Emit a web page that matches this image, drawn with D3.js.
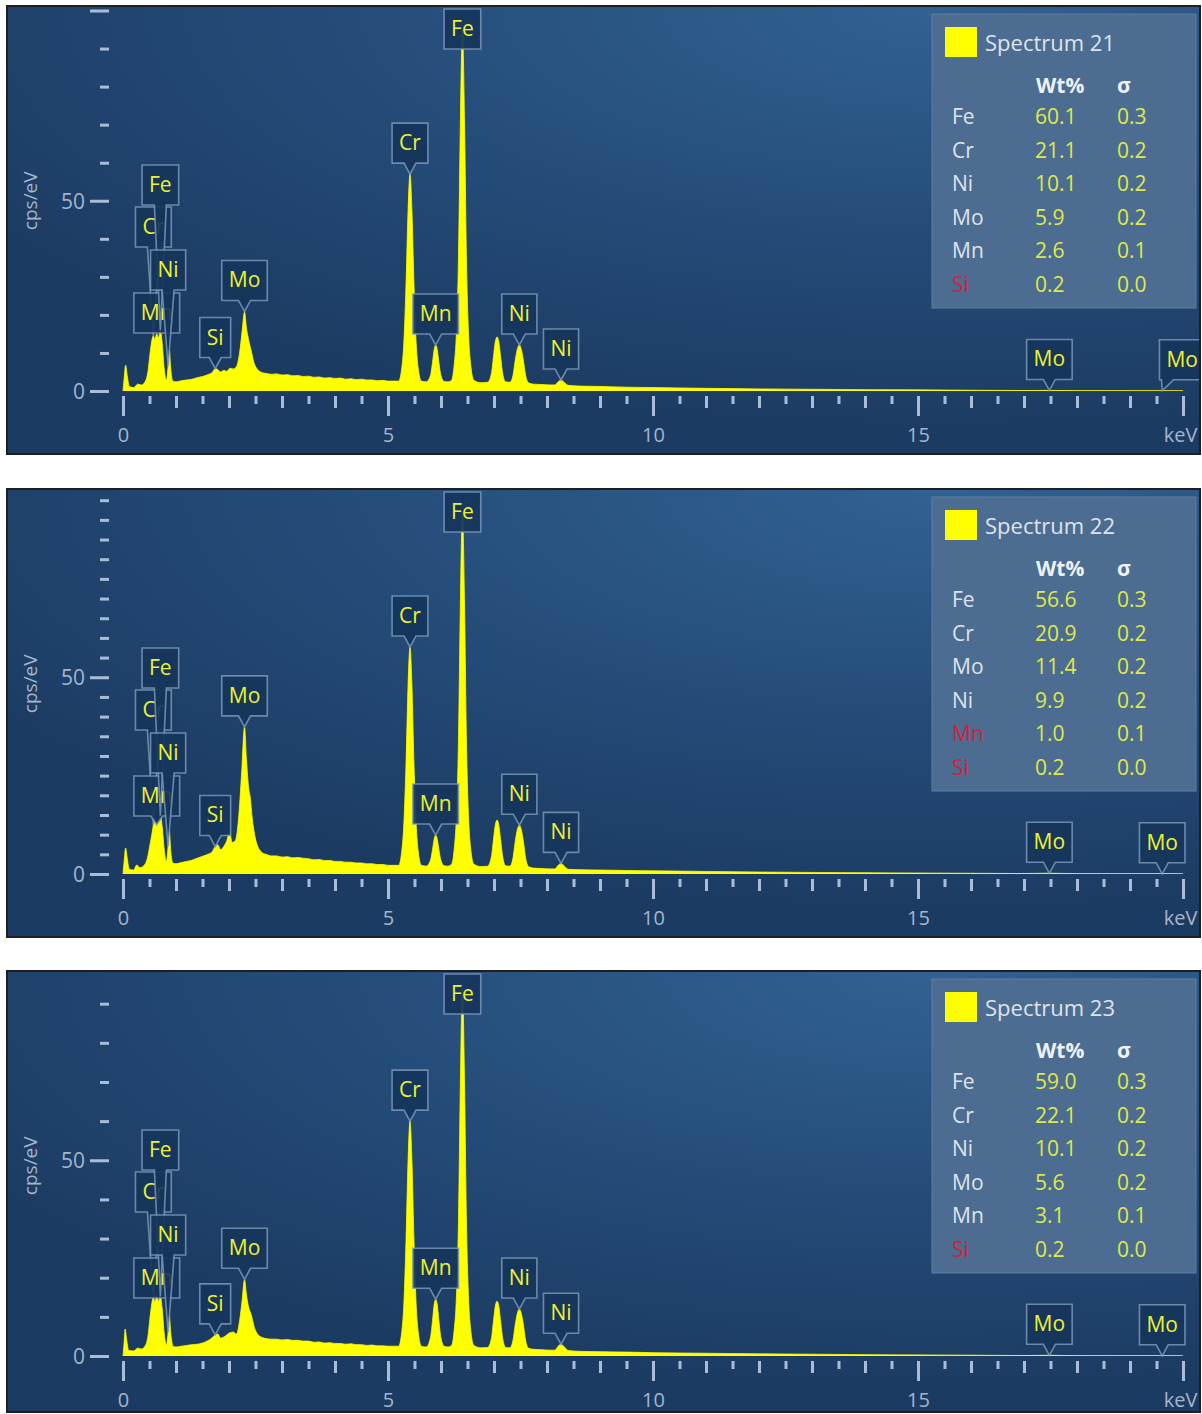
<!DOCTYPE html>
<html>
<head>
<meta charset="utf-8">
<script src="https://cdn.jsdelivr.net/npm/d3@7"></script>
<style>
  body { margin: 0; background: #ffffff; }
  svg { display: block; }
  text { font-family: "Open Sans", "Noto Sans", sans-serif; }
</style>
</head>
<body>
<svg id="chart" width="1202" height="1414"></svg>
<script>
// ---------------- data ----------------
const energyDomain = [0, 20];                       // keV
const xMajorTicks = [0, 5, 10, 15, 20];
const xTickLabels = ["0", "5", "10", "15", "keV"];
const yLabelValues = [0, 50];

const spectrumNames = ["Spectrum 21", "Spectrum 22", "Spectrum 23"];
const countMax = [100, 96.7, 97.2];                 // cps/eV at top of each plot
const countTickStep = [10, 5, 10];

// EDS spectra: [energy keV, counts cps/eV]
const spectrum21 = [
  [0.00,0],[0.02,3.0],[0.05,6.8],[0.08,4.0],[0.12,1.2],[0.20,0.9],[0.28,1.8],[0.35,1.6],[0.42,2.5],[0.47,5.0],
  [0.52,11.0],[0.573,14.5],[0.60,13.6],[0.637,15.0],[0.67,14.0],[0.705,16.0],[0.74,12.5],[0.78,5.5],[0.82,2.8],
  [0.851,6.5],[0.875,10.8],[0.90,6.0],[0.94,2.6],
  [1.00,2.4],[1.10,2.7],[1.20,2.9],[1.30,3.1],[1.40,3.5],[1.50,3.8],[1.60,4.3],[1.68,4.8],[1.74,5.9],[1.79,5.6],
  [1.84,5.0],[1.90,5.4],[1.96,5.2],[2.02,6.0],[2.08,5.8],[2.14,6.4],[2.20,10.0],[2.25,16.0],[2.293,20.9],[2.33,16.5],
  [2.37,13.5],[2.42,10.5],[2.47,7.5],[2.53,5.8],[2.60,5.0],[2.70,4.6],[2.80,4.4],[2.90,4.5],[3.00,4.2],[3.10,4.3],
  [3.20,4.0],[3.30,4.1],[3.40,3.8],[3.50,3.9],[3.60,3.6],[3.70,3.7],[3.80,3.4],[3.90,3.5],[4.00,3.3],[4.10,3.4],
  [4.20,3.1],[4.30,3.2],[4.40,3.0],[4.50,3.1],[4.60,2.9],[4.70,2.9],[4.80,2.7],[4.90,2.8],[5.00,2.6],[5.10,2.6],
  [5.20,2.6],[5.26,6.0],[5.30,13.0],[5.34,28.0],[5.38,48.0],[5.415,57.0],[5.45,48.0],[5.49,28.0],[5.53,13.0],[5.57,6.0],[5.63,2.6],
  [5.72,2.4],[5.80,4.0],[5.84,7.5],[5.87,10.8],[5.899,12.1],[5.93,10.8],[5.96,7.5],[6.00,4.0],[6.06,2.5],[6.13,2.4],
  [6.20,2.8],[6.25,7.0],[6.29,15.0],[6.33,35.0],[6.365,70.0],[6.404,95.0],[6.445,70.0],[6.48,35.0],[6.52,15.0],[6.56,7.0],[6.62,2.8],
  [6.75,2.2],[6.88,2.3],[6.95,4.5],[6.99,9.0],[7.025,13.0],[7.058,14.2],[7.09,13.0],[7.125,9.0],[7.165,4.5],[7.22,2.4],
  [7.30,2.3],[7.36,4.2],[7.40,8.0],[7.445,11.2],[7.478,12.1],[7.51,11.2],[7.555,8.0],[7.595,4.2],[7.65,2.2],
  [7.75,1.8],[7.90,1.7],[8.05,1.6],[8.15,1.6],
  [8.21,2.4],[8.265,2.9],[8.32,2.3],[8.40,1.5],[8.60,1.3],[9.00,1.2],[9.50,1.0],[10.0,0.9],[11.0,0.7],[12.0,0.55],
  [13.0,0.45],[14.0,0.35],[15.0,0.3],[16.0,0.2],[17.0,0.12],[17.479,0.15],[18.0,0.08],[19.0,0.05],[19.608,0.05],[20.0,0.03]
];
const spectrum22 = [
  [0.00,0],[0.02,3.0],[0.05,6.6],[0.08,4.0],[0.12,1.2],[0.20,1.0],[0.26,2.3],[0.32,1.6],[0.40,2.2],[0.46,4.0],
  [0.51,7.5],[0.55,10.5],[0.573,12.5],[0.60,14.0],[0.637,12.5],[0.67,14.0],[0.705,14.8],[0.74,12.0],[0.78,6.0],[0.82,3.2],
  [0.851,7.0],[0.875,11.0],[0.90,6.0],[0.94,2.8],
  [1.00,2.6],[1.10,2.9],[1.20,3.2],[1.30,3.5],[1.40,4.0],[1.50,4.5],[1.60,5.0],[1.68,5.6],[1.74,7.0],[1.79,7.4],
  [1.84,6.2],[1.90,7.0],[1.96,8.5],[2.01,10.7],[2.06,8.0],[2.12,8.5],[2.18,14.0],[2.24,26.0],[2.293,37.4],[2.33,29.0],
  [2.37,22.0],[2.40,19.6],[2.44,14.0],[2.49,9.5],[2.55,6.8],[2.63,5.4],[2.72,4.9],[2.80,4.6],[2.90,4.6],[3.00,4.3],
  [3.10,4.4],[3.20,4.1],[3.30,4.2],[3.40,4.0],[3.50,3.9],[3.60,3.6],[3.70,3.7],[3.80,3.4],[3.90,3.4],[4.00,3.2],
  [4.10,3.2],[4.20,3.0],[4.30,3.0],[4.40,2.8],[4.50,2.8],[4.60,2.6],[4.70,2.6],[4.80,2.4],[4.90,2.4],[5.00,2.2],[5.10,2.2],
  [5.20,2.2],[5.26,5.8],[5.30,13.0],[5.34,28.0],[5.38,48.5],[5.415,57.7],[5.45,48.5],[5.49,28.0],[5.53,13.0],[5.57,5.8],[5.63,2.2],
  [5.72,2.0],[5.80,3.4],[5.84,6.2],[5.87,8.8],[5.899,9.9],[5.93,8.8],[5.96,6.2],[6.00,3.4],[6.06,2.1],[6.13,2.0],
  [6.20,2.5],[6.25,6.5],[6.29,14.5],[6.33,34.0],[6.365,68.0],[6.404,92.0],[6.445,68.0],[6.48,34.0],[6.52,14.5],[6.56,6.5],[6.62,2.5],
  [6.75,1.9],[6.88,2.0],[6.95,4.3],[6.99,8.7],[7.025,12.5],[7.058,13.7],[7.09,12.5],[7.125,8.7],[7.165,4.3],[7.22,2.1],
  [7.30,2.0],[7.36,4.2],[7.40,8.2],[7.445,11.5],[7.478,12.4],[7.51,11.5],[7.555,8.2],[7.595,4.2],[7.65,1.9],
  [7.75,1.5],[7.90,1.4],[8.05,1.3],[8.15,1.3],
  [8.21,2.2],[8.265,2.7],[8.32,2.1],[8.40,1.2],[8.60,1.1],[9.00,1.0],[9.50,0.9],[10.0,0.8],[11.0,0.65],[12.0,0.5],
  [13.0,0.4],[14.0,0.32],[15.0,0.25],[16.0,0.18],[17.0,0.12],[17.479,0.2],[18.0,0.08],[19.0,0.05],[19.608,0.06],[20.0,0.03]
];
const spectrum23 = [
  [0.00,0],[0.02,3.2],[0.04,6.9],[0.07,4.0],[0.11,1.4],[0.20,1.3],[0.28,2.0],[0.35,1.8],[0.42,2.6],[0.47,5.0],
  [0.52,11.0],[0.573,15.0],[0.60,13.8],[0.637,15.4],[0.67,14.0],[0.705,15.2],[0.74,12.0],[0.78,5.5],[0.82,2.8],
  [0.851,6.0],[0.875,10.3],[0.90,6.0],[0.95,2.4],
  [1.00,2.3],[1.10,2.5],[1.20,2.7],[1.30,2.9],[1.40,3.0],[1.50,3.3],[1.60,3.9],[1.68,4.6],[1.74,5.4],[1.79,5.6],
  [1.84,4.6],[1.92,5.0],[2.00,5.8],[2.08,6.1],[2.14,5.6],[2.20,9.0],[2.25,14.5],[2.293,19.6],[2.33,15.5],[2.37,12.5],
  [2.42,10.5],[2.48,7.2],[2.55,5.4],[2.63,4.7],[2.72,4.4],[2.80,4.3],[2.90,4.3],[3.00,4.1],[3.10,4.2],[3.20,4.0],
  [3.30,4.0],[3.40,3.8],[3.50,3.8],[3.60,3.5],[3.70,3.6],[3.80,3.3],[3.90,3.4],[4.00,3.2],[4.10,3.2],[4.20,3.0],
  [4.30,3.1],[4.40,2.9],[4.50,2.9],[4.60,2.7],[4.70,2.8],[4.80,2.6],[4.90,2.6],[5.00,2.5],[5.10,2.5],
  [5.20,2.5],[5.26,6.2],[5.30,13.5],[5.34,29.5],[5.38,50.5],[5.415,60.0],[5.45,50.5],[5.49,29.5],[5.53,13.5],[5.57,6.2],[5.63,2.5],
  [5.72,2.3],[5.80,4.6],[5.84,9.0],[5.87,13.0],[5.899,14.5],[5.93,13.0],[5.96,9.0],[6.00,4.6],[6.06,2.5],[6.13,2.3],
  [6.20,2.7],[6.25,6.8],[6.29,14.8],[6.33,34.5],[6.365,69.0],[6.404,94.0],[6.445,69.0],[6.48,34.5],[6.52,14.8],[6.56,6.8],[6.62,2.7],
  [6.75,2.1],[6.88,2.2],[6.95,4.4],[6.99,8.9],[7.025,12.8],[7.058,14.0],[7.09,12.8],[7.125,8.9],[7.165,4.4],[7.22,2.2],
  [7.30,2.1],[7.36,4.1],[7.40,7.9],[7.445,11.1],[7.478,12.0],[7.51,11.1],[7.555,7.9],[7.595,4.1],[7.65,2.0],
  [7.75,1.7],[7.90,1.6],[8.05,1.5],[8.15,1.5],
  [8.21,2.5],[8.265,3.0],[8.32,2.4],[8.40,1.4],[8.60,1.2],[9.00,1.1],[9.50,1.0],[10.0,0.85],[11.0,0.7],[12.0,0.55],
  [13.0,0.45],[14.0,0.35],[15.0,0.28],[16.0,0.2],[17.0,0.12],[17.479,0.18],[18.0,0.08],[19.0,0.05],[19.608,0.06],[20.0,0.03]
];
const spectra = [spectrum21, spectrum22, spectrum23];

// identified lines (element, line energy in keV)
const peakElements = ["Cr", "Mn", "Fe", "Ni", "Si", "Mo", "Cr", "Mn", "Fe", "Ni", "Ni", "Mo", "Mo"];
const peakEnergies = [0.573, 0.637, 0.705, 0.851, 1.74, 2.293, 5.415, 5.899, 6.404, 7.478, 8.265, 17.479, 19.608];

// quantification results
const quantElements = [
  ["Fe", "Cr", "Ni", "Mo", "Mn", "Si"],
  ["Fe", "Cr", "Mo", "Ni", "Mn", "Si"],
  ["Fe", "Cr", "Ni", "Mo", "Mn", "Si"]
];
const quantWt = [
  ["60.1", "21.1", "10.1", "5.9", "2.6", "0.2"],
  ["56.6", "20.9", "11.4", "9.9", "1.0", "0.2"],
  ["59.0", "22.1", "10.1", "5.6", "3.1", "0.2"]
];
const quantSigma = [
  ["0.3", "0.2", "0.2", "0.2", "0.1", "0.0"],
  ["0.3", "0.2", "0.2", "0.2", "0.1", "0.0"],
  ["0.3", "0.2", "0.2", "0.2", "0.1", "0.0"]
];
const quantFlagged = [
  [false, false, false, false, false, true],
  [false, false, false, false, true, true],
  [false, false, false, false, false, true]
];

// ---------------- layout ----------------
const panelFrames = [
  { x: 7, y: 6, w: 1193, h: 448 },
  { x: 7, y: 489, w: 1193, h: 448 },
  { x: 7, y: 971, w: 1193, h: 441 }
];
const plotLeft = 116, plotRight = 1176, plotZero = 385, plotTop = 4.5;
const boxH = 40, pointerLen = 11, pointerHalf = 6;
// stacked boxes for the crowded L-line region (top offset inside panel)
const stackedTops = { 0: 201, 1: 287, 2: 159, 3: 244 };
const calloutNudge = [{ 12: 20 }, {}, {}];

const colors = {
  fill: "#ffff00",
  tick: "#a9bdd6",
  tickText: "#a3b6ce",
  boxFill: "#16355b",
  boxStroke: "#7f9dbe",
  boxText: "#eef22e",
  legendFill: "#4d6c91",
  legendStroke: "#5f7ea2",
  legendText: "#dde4ec",
  legendValue: "#dfe94a",
  flagged: "#d3213f"
};

const svg = d3.select("#chart");
const defs = svg.append("defs");
const grad = defs.append("radialGradient")
  .attr("id", "bg").attr("cx", 0.78).attr("cy", 0.0).attr("r", 0.95)
  .attr("fx", 0.78).attr("fy", 0.0);
grad.append("stop").attr("offset", 0).attr("stop-color", "#316292");
grad.append("stop").attr("offset", 0.55).attr("stop-color", "#244b78");
grad.append("stop").attr("offset", 1).attr("stop-color", "#1c3b62");

function valueAt(data, e) {
  const i = d3.bisector(d => d[0]).left(data, e);
  if (i < data.length && data[i][0] === e) return data[i][1];
  const a = data[Math.max(0, i - 1)], b = data[Math.min(data.length - 1, i)];
  if (a === b) return a[1];
  return a[1] + (b[1] - a[1]) * (e - a[0]) / (b[0] - a[0]);
}

panelFrames.forEach((pf, p) => {
  const g = svg.append("g").attr("transform", `translate(${pf.x},${pf.y})`);

  defs.append("clipPath").attr("id", "panelClip" + p)
    .append("rect").attr("width", pf.w).attr("height", pf.h);
  defs.append("clipPath").attr("id", "plotClip" + p)
    .append("rect").attr("x", plotLeft - 6).attr("y", plotTop)
    .attr("width", plotRight - plotLeft + 12).attr("height", plotZero - plotTop);

  g.append("rect").attr("width", pf.w).attr("height", pf.h).attr("fill", "url(#bg)");

  const inner = g.append("g").attr("clip-path", `url(#panelClip${p})`);

  const x = d3.scaleLinear().domain(energyDomain).range([plotLeft, plotRight]);
  const y = d3.scaleLinear().domain([0, countMax[p]]).range([plotZero, plotTop]);

  // ---- y axis ----
  const yTicks = d3.range(0, countMax[p] + 1e-6, countTickStep[p]);
  const yMinor = inner.append("g").attr("transform", "translate(102,0)")
    .call(d3.axisLeft(y).tickValues(yTicks.filter(v => v % 50 !== 0)).tickSize(9).tickFormat(""));
  const yMajor = inner.append("g").attr("transform", "translate(102,0)")
    .call(d3.axisLeft(y).tickValues(yTicks.filter(v => v % 50 === 0)).tickSize(19).tickPadding(5)
      .tickFormat(v => yLabelValues.includes(v) ? String(v) : ""));
  [yMinor, yMajor].forEach(ax => {
    ax.select(".domain").remove();
    ax.selectAll(".tick line").attr("stroke", colors.tick).attr("stroke-width", 3);
    ax.selectAll(".tick text").attr("fill", colors.tickText).attr("font-size", 21)
      .attr("font-family", "'Open Sans', sans-serif").attr("dy", "0.35em");
  });

  inner.append("text")
    .attr("transform", `translate(23,${(plotZero + plotTop) / 2}) rotate(-90)`)
    .attr("text-anchor", "middle").attr("dy", "0.35em")
    .attr("fill", colors.tickText).attr("font-size", 19).text("cps/eV");

  // ---- x axis ----
  const halfTicks = d3.range(0.5, 20, 1);
  const unitTicks = d3.range(1, 20, 1).filter(v => v % 5 !== 0);
  const xAxisY = plotZero + 5;
  const xs = [
    { vals: halfTicks, size: 8, labels: false },
    { vals: unitTicks, size: 12, labels: false },
    { vals: xMajorTicks, size: 20, labels: true }
  ];
  xs.forEach(t => {
    const ax = inner.append("g").attr("transform", `translate(0,${xAxisY})`)
      .call(d3.axisBottom(x).tickValues(t.vals).tickSize(t.size).tickPadding(12)
        .tickFormat(t.labels ? (v => xTickLabels[xMajorTicks.indexOf(v)]) : ""));
    ax.select(".domain").remove();
    ax.selectAll(".tick line").attr("stroke", colors.tick).attr("stroke-width", 3);
    ax.selectAll(".tick text").attr("fill", colors.tickText).attr("font-size", 20)
      .attr("font-family", "'Open Sans', sans-serif");
    // the unit label sits at the far end of the axis
    ax.selectAll(".tick text").filter(v => v === energyDomain[1])
      .attr("text-anchor", "end").attr("x", 14);
  });

  // ---- spectrum ----
  const area = d3.area()
    .x(d => x(d[0])).y0(y(0)).y1(d => y(d[1]))
    .curve(d3.curveMonotoneX);
  inner.append("path").datum(spectra[p])
    .attr("clip-path", `url(#plotClip${p})`)
    .attr("d", area).attr("fill", colors.fill)
    .attr("stroke", colors.fill).attr("stroke-width", 0.8);

  // ---- peak callouts ----
  peakElements.forEach((el, i) => {
    const e = peakEnergies[i];
    const tx = x(e), ty = y(Math.min(valueAt(spectra[p], e), countMax[p]));
    const cx = tx + (calloutNudge[p][i] || 0);
    const lbl = inner.append("g");
    const txt = lbl.append("text").attr("font-size", 21).text(el);
    const w = txt.node().getComputedTextLength() + 14;
    let top = stackedTops[i] !== undefined ? stackedTops[i] : ty - pointerLen - boxH;
    top = Math.max(top, 3);
    const bottom = top + boxH, l = cx - w / 2, r = cx + w / 2;
    let d;
    if (ty > bottom + 2) {
      const pc = Math.min(Math.max(tx, l + pointerHalf + 2), r - pointerHalf - 2);
      d = `M${l},${top}H${r}V${bottom}H${pc + pointerHalf}L${tx},${ty}L${pc - pointerHalf},${bottom}H${l}Z`;
    } else {
      d = `M${l},${top}H${r}V${bottom}H${l}Z`;
    }
    lbl.insert("path", "text").attr("d", d)
      .attr("fill", colors.boxFill).attr("fill-opacity", 0.92)
      .attr("stroke", colors.boxStroke).attr("stroke-opacity", 0.8).attr("stroke-width", 1.6);
    txt.attr("x", cx).attr("y", top + 27).attr("text-anchor", "middle").attr("fill", colors.boxText);
  });

  // ---- quantification legend ----
  const lg = inner.append("g").attr("transform", "translate(925,8)");
  lg.append("rect").attr("width", 264).attr("height", 294)
    .attr("fill", colors.legendFill).attr("stroke", colors.legendStroke).attr("stroke-width", 1);
  lg.append("rect").attr("x", 13).attr("y", 13).attr("width", 32).attr("height", 30).attr("fill", colors.fill);
  lg.append("text").attr("x", 53).attr("y", 37).attr("font-size", 22)
    .attr("fill", colors.legendText).text(spectrumNames[p]);
  lg.append("text").attr("x", 104).attr("y", 79).attr("font-size", 21).attr("font-weight", "bold")
    .attr("fill", "#eef2f6").text("Wt%");
  lg.append("text").attr("x", 185).attr("y", 79).attr("font-size", 21).attr("font-weight", "bold")
    .attr("fill", "#eef2f6").text("σ");
  quantElements[p].forEach((el, k) => {
    const by = 110 + k * 33.5;
    lg.append("text").attr("x", 20).attr("y", by).attr("font-size", 21)
      .attr("fill", quantFlagged[p][k] ? colors.flagged : colors.legendText).text(el);
    lg.append("text").attr("x", 103).attr("y", by).attr("font-size", 21)
      .attr("fill", colors.legendValue).text(quantWt[p][k]);
    lg.append("text").attr("x", 185).attr("y", by).attr("font-size", 21)
      .attr("fill", colors.legendValue).text(quantSigma[p][k]);
  });

  g.append("rect").attr("width", pf.w).attr("height", pf.h)
    .attr("fill", "none").attr("stroke", "#1f1f1f").attr("stroke-width", 2);
});
</script>
</body>
</html>
